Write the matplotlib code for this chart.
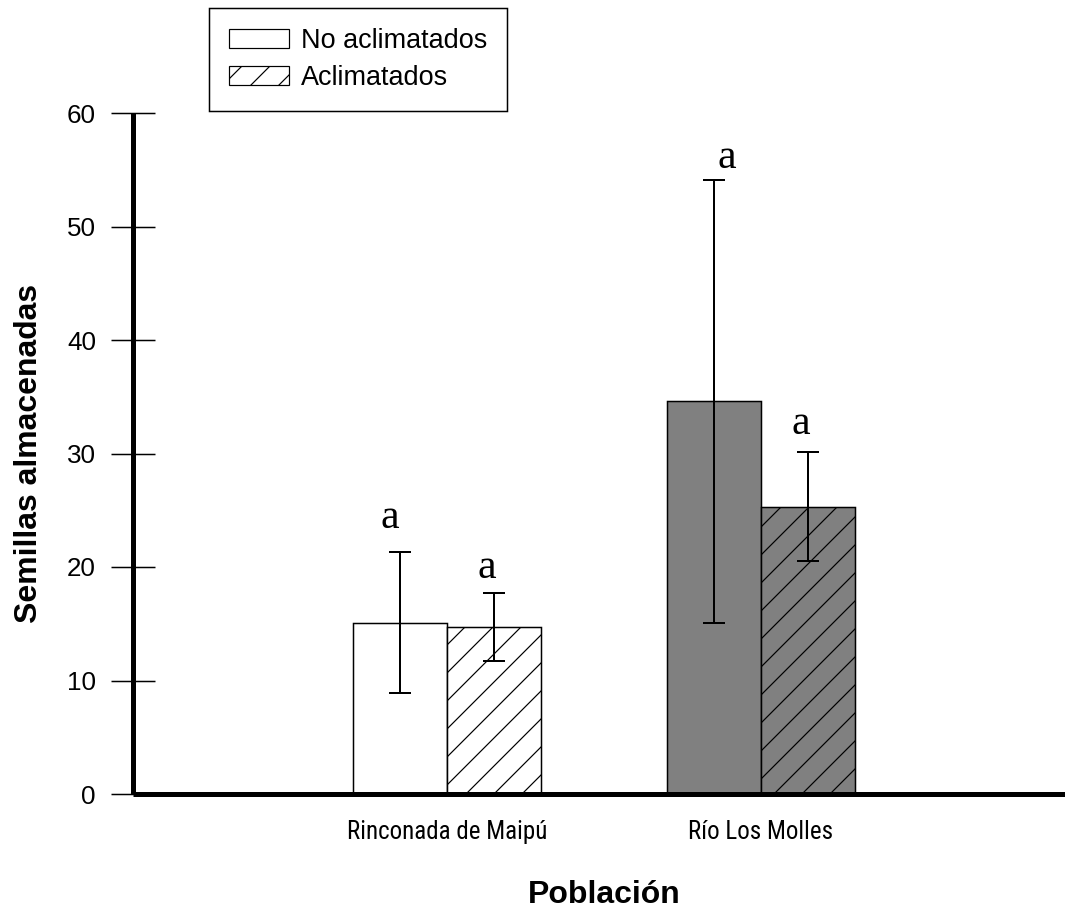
import matplotlib
matplotlib.use("Agg")
import matplotlib.pyplot as plt
from matplotlib import font_manager
from matplotlib.patches import Patch
import numpy as np

# datos
poblaciones = ["Rinconada de Maipú", "Río Los Molles"]
no_aclimatados = [15.1, 34.6]
no_aclimatados_err = [6.2, 19.5]
aclimatados = [14.7, 25.3]
aclimatados_err = [3.0, 4.8]
letras_no = ["a", "a"]
letras_si = ["a", "a"]
colores = ["white", "#808080"]
yticks = [0, 10, 20, 30, 40, 50, 60]

DPI = 168
PT = 72 / DPI      # px -> pt

plt.rcParams["font.family"] = ["Liberation Sans", "DejaVu Sans"]
plt.rcParams["hatch.linewidth"] = 1.2 * PT
plt.rcParams["hatch.color"] = "black"

# fuente angosta para los nombres de poblacion, si hay alguna
narrow_font, narrow_size = None, 23
for f in font_manager.fontManager.ttflist:
    if f.name in ("Liberation Sans Narrow", "Arial Narrow", "Roboto Condensed") \
            and f.style == "normal" and f.weight in (400, "normal", "regular"):
        narrow_font, narrow_size = f.fname, 25
        break

fig = plt.figure(figsize=(1065 / DPI, 915 / DPI), dpi=DPI)
ax = fig.add_axes([133 / 1065, 121 / 915, 942 / 1065, 681 / 915])

x = np.arange(1, len(poblaciones) + 1)
w = 0.3

ax.bar(x - w / 2, no_aclimatados, w, color=colores, edgecolor="black",
       linewidth=1.5 * PT, zorder=2)
ax.bar(x + w / 2, aclimatados, w, color=colores, edgecolor="black",
       linewidth=1.5 * PT, hatch="//", zorder=2)

err_kw = dict(fmt="none", ecolor="black", elinewidth=2 * PT,
              capsize=11.5 * PT, capthick=2 * PT, zorder=3)
ax.errorbar(x - w / 2, no_aclimatados, yerr=no_aclimatados_err, **err_kw)
ax.errorbar(x + w / 2, aclimatados, yerr=aclimatados_err, **err_kw)

# letras de significancia sobre las barras de error
offs_no = [(-10, 24), (13, 12)]
offs_si = [(-7, 15), (-7, 18)]
for xs, m, e, letras, offs in [(x - w / 2, no_aclimatados, no_aclimatados_err, letras_no, offs_no),
                               (x + w / 2, aclimatados, aclimatados_err, letras_si, offs_si)]:
    for xi, mi, ei, let, (dx, dy) in zip(xs, m, e, letras, offs):
        ax.annotate(let, (xi, mi + ei), xytext=(dx * PT, dy * PT),
                    textcoords="offset points", ha="center", va="baseline",
                    fontsize=42 * PT, family="Liberation Serif")

ax.set_xlim(0, 3)
ax.set_ylim(0, 60)
ax.set_yticks(yticks)
ax.set_xticks(x)
if narrow_font:
    ax.set_xticklabels(poblaciones, fontproperties=font_manager.FontProperties(
        fname=narrow_font, size=narrow_size * PT))
else:
    ax.set_xticklabels(poblaciones, fontsize=narrow_size * PT)

for s in ["top", "right"]:
    ax.spines[s].set_visible(False)
for s in ["left", "bottom"]:
    ax.spines[s].set_linewidth(5 * PT)
    ax.spines[s].set_capstyle("butt")

ax.tick_params(axis="y", direction="inout", length=44 * PT, width=1.5 * PT,
               pad=15 * PT, labelsize=26 * PT)
ax.tick_params(axis="x", length=0, pad=26 * PT)

ax.set_ylabel("Semillas almacenadas", fontsize=32 * PT, fontweight="bold", va="center")
ax.yaxis.set_label_coords((29 - 133) / 942, 0.5)
ax.set_xlabel("Población", fontsize=32 * PT, fontweight="bold")
ax.xaxis.set_label_coords(0.5, -(880 - 794) / 681)

handles = [Patch(facecolor="white", edgecolor="black", linewidth=1.2 * PT),
           Patch(facecolor="white", edgecolor="black", linewidth=1.2 * PT, hatch="//")]
leg = fig.legend(handles, ["No aclimatados", "Aclimatados"], loc="upper left",
                 bbox_to_anchor=(209 / 1065, 1 - 8 / 915), borderaxespad=0,
                 fontsize=27 * PT, handlelength=2.2, handleheight=0.7,
                 handletextpad=0.45, borderpad=0.75, labelspacing=0.38,
                 fancybox=False, edgecolor="black", framealpha=1)
leg.get_frame().set_linewidth(1.5 * PT)

fig.savefig("out.png", dpi=DPI)
